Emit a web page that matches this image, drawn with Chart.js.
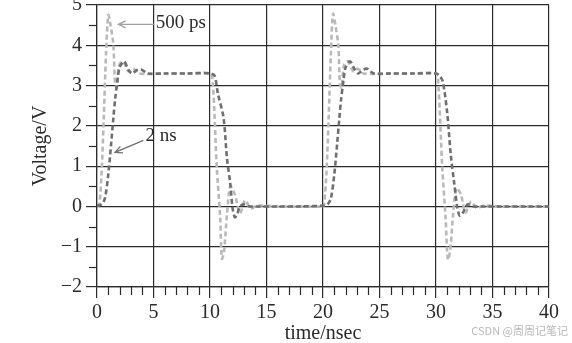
<!DOCTYPE html>
<html>
<head>
<meta charset="utf-8">
<script src="https://cdn.jsdelivr.net/npm/chart.js@4/dist/chart.umd.min.js"></script>
<style>
  html, body { margin: 0; padding: 0; background: #fff; }
  #wrap { width: 572px; height: 343px; }
</style>
</head>
<body>
<div id="wrap"><canvas id="myChart" width="572" height="343"></canvas></div>
<script>
// 500 ps edge (light gray, strong ringing)
const time_fast = [0, 0.2, 0.4, 0.6, 0.8, 1.0, 1.2, 1.45, 1.6, 1.75, 1.95, 2.3, 2.8, 3.2, 3.7, 6, 8, 10.0, 10.25, 10.6, 10.9, 11.05, 11.25, 11.5, 11.8, 12.2, 12.65, 13.1, 13.6, 14.2, 16, 18, 20.0, 20.1, 20.3, 20.5, 20.7, 20.88, 21.1, 21.35, 21.5, 21.65, 21.85, 22.2, 22.7, 23.1, 23.6, 26, 28, 30.0, 30.2, 30.55, 30.85, 31.05, 31.25, 31.5, 31.8, 32.2, 32.6, 33.1, 33.6, 34.2, 36, 38, 40];
const volt_fast = [0, 0.05, 0.8, 2.2, 3.8, 4.75, 4.5, 4.0, 3.05, 2.95, 3.5, 3.6, 3.35, 3.42, 3.3, 3.3, 3.3, 3.3, 3.05, 0.97, -0.27, -1.3, -1.1, -0.2, 0.5, 0.3, -0.17, 0.15, -0.05, 0.02, 0, 0, 0, 0.05, 0.8, 2.2, 3.8, 4.78, 4.5, 4.0, 3.05, 2.95, 3.5, 3.6, 3.35, 3.42, 3.3, 3.3, 3.3, 3.3, 3.05, 1.0, -0.3, -1.32, -1.1, -0.25, 0.45, 0.3, -0.15, 0.12, -0.04, 0.02, 0, 0, 0];

// 2 ns edge (dark gray)
const time_slow = [0, 0.4, 0.7, 1.0, 1.25, 1.45, 1.6, 1.8, 2.0, 2.4, 2.8, 3.1, 3.5, 3.9, 4.5, 6, 8, 10.0, 10.4, 10.7, 11.2, 11.5, 11.8, 12.0, 12.2, 12.4, 12.65, 13.0, 13.5, 14, 16, 18, 20.0, 20.4, 20.7, 21.0, 21.25, 21.45, 21.6, 21.8, 22.0, 22.4, 22.8, 23.1, 23.5, 23.9, 24.5, 26, 28, 30.0, 30.3, 30.6, 31.0, 31.3, 31.6, 31.9, 32.1, 32.4, 32.8, 33.3, 34, 36, 38, 40];
const volt_slow = [0.02, 0.05, 0.2, 0.8, 1.55, 2.2, 2.65, 3.1, 3.45, 3.6, 3.38, 3.3, 3.38, 3.4, 3.3, 3.3, 3.3, 3.3, 3.25, 2.8, 2.2, 1.2, 0.55, -0.05, -0.27, -0.2, 0.0, 0.05, 0.0, 0.0, 0, 0, 0.02, 0.05, 0.2, 0.8, 1.55, 2.2, 2.65, 3.1, 3.45, 3.6, 3.4, 3.3, 3.38, 3.42, 3.3, 3.3, 3.3, 3.3, 3.25, 3.1, 2.3, 1.3, 0.6, -0.05, -0.23, -0.15, 0.05, 0.0, 0.0, 0, 0, 0];

const x_ticks = [0, 5, 10, 15, 20, 25, 30, 35, 40];
const y_ticks = [-2, -1, 0, 1, 2, 3, 4, 5];

const serif = "'Liberation Serif', 'DejaVu Serif', serif";
const inkColor = "#2b2b2b";

const toPoints = (xs, ys) => xs.map((x, i) => ({ x, y: ys[i] }));

const extrasPlugin = {
  id: "extras",
  afterDraw(chart) {
    const { ctx, scales: { x, y } } = chart;
    ctx.save();
    // minor ticks
    ctx.strokeStyle = inkColor;
    ctx.lineWidth = 1.2;
    const bottom = y.getPixelForValue(-2);
    const left = x.getPixelForValue(0);
    for (let t = 1; t < 40; t++) {
      if (t % 5 === 0) continue;
      const px = Math.round(x.getPixelForValue(t)) + 0.5;
      ctx.beginPath();
      ctx.moveTo(px, bottom);
      ctx.lineTo(px, bottom + 8);
      ctx.stroke();
    }
    for (let v = -1.5; v < 5; v += 1) {
      const py = Math.round(y.getPixelForValue(v)) + 0.5;
      ctx.beginPath();
      ctx.moveTo(left, py);
      ctx.lineTo(left - 8, py);
      ctx.stroke();
    }

    // annotations
    const arrow = (x0, y0, x1, y1, color) => {
      const ax = x.getPixelForValue(x0), ay = y.getPixelForValue(y0);
      const bx = x.getPixelForValue(x1), by = y.getPixelForValue(y1);
      ctx.strokeStyle = color;
      ctx.lineWidth = 1.3;
      ctx.beginPath();
      ctx.moveTo(ax, ay);
      ctx.lineTo(bx, by);
      const ang = Math.atan2(by - ay, bx - ax);
      ctx.moveTo(bx - 8 * Math.cos(ang - 0.45), by - 8 * Math.sin(ang - 0.45));
      ctx.lineTo(bx, by);
      ctx.lineTo(bx - 8 * Math.cos(ang + 0.45), by - 8 * Math.sin(ang + 0.45));
      ctx.stroke();
    };
    arrow(5.1, 4.52, 1.9, 4.52, "#a0a0a0");
    arrow(4.1, 1.64, 1.6, 1.34, "#707070");

    ctx.fillStyle = inkColor;
    ctx.font = "19px " + serif;
    ctx.textBaseline = "middle";
    ctx.textAlign = "left";
    ctx.fillText("500 ps", x.getPixelForValue(5.2), y.getPixelForValue(4.55));
    ctx.fillText("2 ns", x.getPixelForValue(4.3), y.getPixelForValue(1.76));

    // watermark
    ctx.fillStyle = "rgba(160,160,160,0.75)";
    ctx.font = "11px 'Noto Sans CJK SC', 'Noto Sans', sans-serif";
    ctx.textAlign = "right";
    ctx.fillText("CSDN @周周记笔记", 568, 331);
    ctx.restore();
  }
};

const config = {
  type: "line",
  data: {
    datasets: [
      {
        label: "2 ns",
        data: toPoints(time_slow, volt_slow),
        borderColor: "#6f6f6f",
        borderWidth: 2.6,
        borderDash: [5, 3],
        pointRadius: 0,
        tension: 0.3
      },
      {
        label: "500 ps",
        data: toPoints(time_fast, volt_fast),
        borderColor: "#b9b9b9",
        borderWidth: 2.6,
        borderDash: [5, 3],
        pointRadius: 0,
        tension: 0.3
      }
    ]
  },
  options: {
    animation: false,
    responsive: false,
    layout: { padding: { top: 5, right: 23, left: 0, bottom: 0 } },
    plugins: { legend: { display: false }, tooltip: { enabled: false } },
    scales: {
      x: {
        type: "linear",
        min: 0,
        max: 40,
        afterFit: (scale) => { scale.height = 56; scale.paddingLeft = 0; scale.paddingRight = 0; },
        afterBuildTicks: (scale) => { scale.ticks = x_ticks.map(v => ({ value: v })); },
        ticks: { color: inkColor, font: { family: serif, size: 20 }, padding: 3, maxRotation: 0 },
        grid: { color: inkColor, lineWidth: 1.2, tickLength: 11, tickColor: inkColor },
        border: { color: inkColor, width: 1.2 },
        title: { display: true, text: "time/nsec", color: inkColor, font: { family: serif, size: 20 }, padding: { top: 2, bottom: -3 } }
      },
      y: {
        min: -2,
        max: 5,
        afterFit: (scale) => { scale.width = 97; scale.paddingTop = 0; scale.paddingBottom = 0; },
        afterBuildTicks: (scale) => { scale.ticks = y_ticks.map(v => ({ value: v })); },
        ticks: { color: inkColor, font: { family: serif, size: 20 }, padding: 4, callback: (v) => v < 0 ? "\u2212" + Math.abs(v) : String(v) },
        grid: { color: inkColor, lineWidth: 1.2, tickLength: 11, tickColor: inkColor },
        border: { color: inkColor, width: 1.2 },
        title: { display: true, text: "Voltage/V", color: inkColor, font: { family: serif, size: 20 }, padding: { top: 29, bottom: 4 } }
      }
    }
  },
  plugins: [extrasPlugin]
};

const myChart = document.getElementById("myChart");
new Chart(myChart, config);
</script>
</body>
</html>
